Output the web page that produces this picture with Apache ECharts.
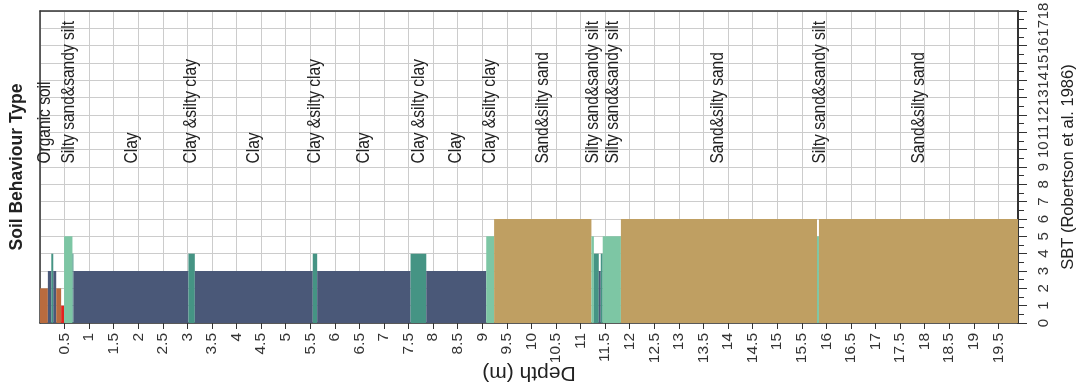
<!DOCTYPE html>
<html>
<head>
<meta charset="utf-8">
<script src="https://cdn.jsdelivr.net/npm/echarts@6/dist/echarts.min.js"></script>
<style>
  html, body { margin: 0; padding: 0; background: #fff; }
  #chart { width: 1078px; height: 383px; }
</style>
</head>
<body>
<div id="chart"></div>
<script>
// Soil layers from the CPT log: top depth (m), bottom depth (m), SBT zone
const layerTop    = [0.00, 0.16, 0.23, 0.27, 0.33, 0.43, 0.49, 0.66, 0.68, 3.02, 3.15, 5.55, 5.64, 7.54, 7.86, 9.08, 9.24, 11.22, 11.27, 11.37, 11.41, 11.45, 11.82, 15.81, 15.85];
const layerBottom = [0.16, 0.23, 0.27, 0.33, 0.43, 0.49, 0.66, 0.68, 3.02, 3.15, 5.55, 5.64, 7.54, 7.86, 9.08, 9.24, 11.22, 11.27, 11.37, 11.41, 11.45, 11.82, 15.81, 15.85, 19.90];
const layerZone   = [2, 3, 4, 3, 2, 1, 5, 4, 3, 4, 3, 4, 3, 4, 3, 5, 6, 5, 4, 3, 4, 5, 6, 5, 6];

// Soil type annotations: depth (m) and name
const labelDepth = [0.11, 0.59, 1.87, 3.08, 4.35, 5.59, 6.59, 7.70, 8.47, 9.15, 10.23, 11.25, 11.66, 13.80, 15.86, 17.88];
const labelText  = [
  'Organic soil', 'Silty sand&sandy silt', 'Clay', 'Clay &silty clay', 'Clay',
  'Clay &silty clay', 'Clay', 'Clay &silty clay', 'Clay', 'Clay &silty clay',
  'Sand&silty sand', 'Silty sand&sandy silt', 'Silty sand&sandy silt',
  'Sand&silty sand', 'Silty sand&sandy silt', 'Sand&silty sand'
];
const labelLevel = 9.2;

// Fill colour per SBT zone
const zoneColors = { 1: '#e2231e', 2: '#b96b3e', 3: '#4a5878', 4: '#459484', 5: '#7dc6a4', 6: '#bf9f62' };

const SANS = '"Liberation Sans", Arial, sans-serif';

const layers = layerTop.map((t, i) => [t, layerBottom[i], layerZone[i]]);
const labels = labelDepth.map((d) => [d, labelLevel]);

const chart = echarts.init(document.getElementById('chart'), null, { renderer: 'canvas' });

chart.setOption({
  animation: false,
  grid: { left: 40, right: 60, top: 11, bottom: 60, containLabel: false, outerBoundsMode: 'none' },
  xAxis: [
    {
      type: 'value', min: 0, max: 19.9, interval: 0.5, position: 'bottom',
      name: 'Depth (m)', nameLocation: 'middle', nameRotate: 180, nameGap: 39, nameMoveOverlap: false,
      nameTextStyle: { fontSize: 21, color: '#222', fontFamily: SANS },
      axisLine: { show: true, onZero: false, lineStyle: { color: '#333', width: 1.5 } },
      axisTick: { show: true, length: 6, lineStyle: { color: '#333' } },
      axisLabel: { rotate: 90, fontSize: 15.5, color: '#333', fontFamily: SANS, margin: 10, showMinLabel: false, showMaxLabel: false },
      splitLine: { show: true, lineStyle: { color: '#cccccc', width: 1 } }
    },
    {
      type: 'value', min: 0, max: 19.9, position: 'top',
      axisLine: { show: true, onZero: false, lineStyle: { color: '#333', width: 1.5 } },
      axisTick: { show: false }, axisLabel: { show: false }, splitLine: { show: false }
    }
  ],
  yAxis: [
    {
      type: 'value', min: 0, max: 18, interval: 1, position: 'right',
      name: 'SBT (Robertson et al. 1986)', nameLocation: 'middle', nameRotate: 90, nameGap: 42, nameMoveOverlap: false,
      nameTextStyle: { fontSize: 16.5, color: '#222', fontFamily: SANS },
      axisLine: { show: true, onZero: false, lineStyle: { color: '#333', width: 2 } },
      axisTick: { show: true, length: 9, lineStyle: { color: '#333' } },
      minorTick: { show: true, splitNumber: 2, length: 6, lineStyle: { color: '#333' } },
      axisLabel: { rotate: 90, fontSize: 15, color: '#333', fontFamily: SANS, margin: 18 },
      splitLine: { show: true, lineStyle: { color: '#cccccc', width: 1 } }
    },
    {
      type: 'value', min: 0, max: 18, position: 'left',
      name: 'Soil Behaviour Type', nameLocation: 'middle', nameRotate: 90, nameGap: 14,
      nameTextStyle: { fontSize: 17.5, fontWeight: 'bold', color: '#222', fontFamily: SANS },
      axisLine: { show: true, onZero: false, lineStyle: { color: '#333', width: 1.5 } },
      axisTick: { show: false }, axisLabel: { show: false }, splitLine: { show: false }
    }
  ],
  series: [
    {
      type: 'custom',
      xAxisIndex: 0, yAxisIndex: 0,
      data: layers,
      encode: { x: [0, 1], y: 2 },
      renderItem: function (params, api) {
        const base = api.coord([api.value(0), 0]);
        const top = api.coord([api.value(1), api.value(2)]);
        return {
          type: 'rect',
          shape: { x: base[0], y: top[1], width: top[0] - base[0], height: base[1] - top[1] },
          style: { fill: zoneColors[api.value(2)] }
        };
      }
    },
    {
      type: 'custom',
      xAxisIndex: 0, yAxisIndex: 0,
      data: labels,
      encode: { x: 0, y: 1 },
      z: 5,
      renderItem: function (params, api) {
        const p = api.coord([api.value(0), api.value(1)]);
        // condensed lettering: squeeze the text along its reading direction
        return {
          type: 'text',
          x: p[0], y: p[1],
          rotation: Math.PI / 2,
          scaleX: 0.84,
          style: {
            text: labelText[params.dataIndex],
            fill: '#222', fontSize: 18.5, fontFamily: SANS,
            align: 'left', verticalAlign: 'middle'
          }
        };
      }
    }
  ]
});
</script>
</body>
</html>
